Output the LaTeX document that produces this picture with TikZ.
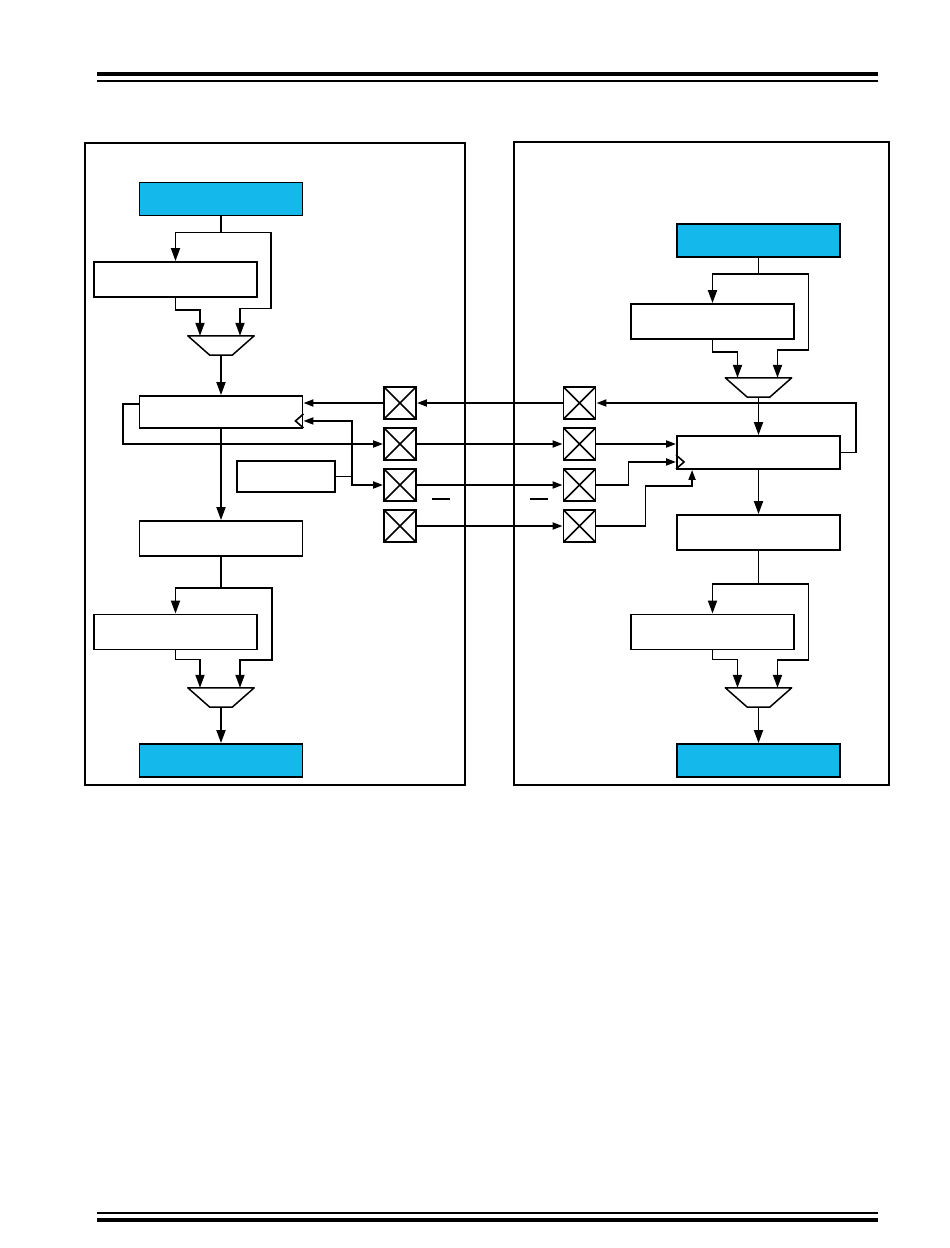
\documentclass[tikz,border=0pt]{standalone}
\usepackage{tikz}
\usetikzlibrary{arrows.meta,calc}

\definecolor{padblue}{RGB}{20,184,234}
\tikzset{
  blk/.style={draw, line width=1.9pt, minimum width=163pt, minimum height=35pt, inner sep=0pt},
  srcblk/.style={blk, fill=padblue, minimum height=33pt},
  regblk/.style={blk, minimum height=32pt},
  xbox/.style={draw, line width=1.9pt, minimum size=32pt, inner sep=0pt,
    path picture={\draw[line width=1.6pt] (path picture bounding box.north west) -- (path picture bounding box.south east)
      (path picture bounding box.south west) -- (path picture bounding box.north east);}},
  muxbox/.style={minimum width=66pt, minimum height=19pt, inner sep=0pt},
  muxline/.style={line width=1.5pt, line join=round},
  arr/.style={line width=1.9pt, -{Triangle[length=13pt,width=9pt]}},
  sarr/.style={line width=1.9pt, -{Triangle[length=10pt,width=7pt]}},
}

\begin{document}
\begin{tikzpicture}[x=1pt,y=-1pt]
    \useasboundingbox (0,0) rectangle (950,1248);

    % draw header and footer rules
    \draw[line width=4pt] (97,74) -- (878,74);
    \draw[line width=2pt] (97,81) -- (878,81);
    \draw[line width=2pt] (97,1213) -- (878,1213);
    \draw[line width=4pt] (97,1220) -- (878,1220);

    % draw frames
    \draw[line width=1.6pt] (85,143) rectangle (465,785);
    \draw[line width=1.6pt] (514,142) rectangle (889,785);

    % left side blocks
    \node[srcblk] (srcL) at (221,199) {};
    \node[blk] (mapL1) at (175.5,279.5) {};
    \node[muxbox] (muxL1) at (221,345.5) {};
    \node[regblk] (regL) at (221,412) {};
    \node[blk, minimum width=98pt, minimum height=31pt] (smallL) at (286,476.5) {};
    \node[blk] (bufL) at (221,538.5) {};
    \node[blk] (mapL2) at (175.5,632) {};
    \node[muxbox] (muxL2) at (221,697.5) {};
    \node[srcblk] (sinkL) at (221,760.5) {};

    % right side blocks
    \node[srcblk] (srcR) at (758.5,240.5) {};
    \node[blk] (mapR1) at (712.5,321.5) {};
    \node[muxbox] (muxR1) at (758.5,387.5) {};
    \node[regblk, minimum height=33pt] (regR) at (758.5,452.5) {};
    \node[blk] (bufR) at (758.5,532.5) {};
    \node[blk] (mapR2) at (712.5,632) {};
    \node[muxbox] (muxR2) at (758.5,697.5) {};
    \node[srcblk] (sinkR) at (758.5,760.5) {};

    % draw pads
    \foreach \i/\y in {1/403,2/444,3/485,4/526} {
        \node[xbox] (xL\i) at (400,\y) {};
        \node[xbox] (xR\i) at (579.5,\y) {};
    }

    % draw muxes
    \foreach \m in {muxL1,muxL2,muxR1,muxR2}
    \draw[muxline] (\m.north west) -- (\m.north east) -- ([xshift=-22pt]\m.south east) -- ([xshift=22pt]\m.south west) -- cycle;

    % clock marks
    \draw[line width=1.6pt] ($(regL.south east)+(0,-15)$) -- ++(-8,7) -- ++(8,7);
    \draw[line width=1.6pt] ($(regR.south west)+(0,-15)$) -- ++(8,7) -- ++(-8,7);

    % left side connections
    \draw[arr] (srcL.south) -- ++(0,16) coordinate (splitL1) -| (mapL1.north);
    \draw[arr] (splitL1) -- ++(50,0) -- ++(0,76) -| ($(muxL1.north)+(19,0)$);
    \draw[arr] (mapL1.south) -- ++(0,12) -| ($(muxL1.north)+(-21,0)$);
    \draw[arr] (muxL1.south) -- (regL.north);
    \draw[sarr] (xL1.west) -- (xL1.west -| regL.east);
    \draw[sarr] (smallL.east) -- ++(16,0) coordinate (clkL) |- ($(regL.south east)+(0,-8)$);
    \draw[sarr] (clkL) |- (xL3.west);
    \draw[sarr] ($(regL.west)+(0,-8)$) -- ++(-16,0) |- (xL2.west);
    \draw[arr] (regL.south) -- (bufL.north);
    \draw[arr] (bufL.south) -- ++(0,31) coordinate (splitL2) -| (mapL2.north);
    \draw[arr] (splitL2) -- ++(51,0) -- ++(0,72) -| ($(muxL2.north)+(19,0)$);
    \draw[arr] (mapL2.south) -- ++(0,9) -| ($(muxL2.north)+(-21,0)$);
    \draw[arr] (muxL2.south) -- (sinkL.north);

    % pad to pad connections
    \draw[sarr] (xR1.west) -- (xL1.east);
    \foreach \i in {2,3,4}
    \draw[sarr] (xL\i.east) -- (xR\i.west);

    % overline marks
    \draw[line width=1.6pt] (432,499) -- (450,499);
    \draw[line width=1.6pt] (530,499) -- (548,499);

    % right side connections
    \draw[arr] (srcR.south) -- ++(0,16) coordinate (splitR1) -| (mapR1.north);
    \draw[arr] (splitR1) -- ++(50,0) -- ++(0,76) -| ($(muxR1.north)+(19,0)$);
    \draw[arr] (mapR1.south) -- ++(0,12) -| ($(muxR1.north)+(-21,0)$);
    \draw[arr] (muxR1.south) -- (regR.north);
    \draw[sarr] (regR.east) -- ++(15,0) |- (xR1.east);
    \draw[sarr] (xR2.east) -- (xR2.east -| regR.west);
    \draw[sarr] (xR3.east) -- ++(32,0) |- ($(regR.south west)+(0,-8)$);
    \draw[sarr] (xR4.east) -- ++(49,0) |- ($(regR.south west)+(16,16)$) -- ($(regR.south west)+(16,0)$);
    \draw[arr] (regR.south) -- (bufR.north);
    \draw[arr] (bufR.south) -- ++(0,33) coordinate (splitR2) -| (mapR2.north);
    \draw[arr] (splitR2) -- ++(50,0) -- ++(0,76) -| ($(muxR2.north)+(19,0)$);
    \draw[arr] (mapR2.south) -- ++(0,9) -| ($(muxR2.north)+(-21,0)$);
    \draw[arr] (muxR2.south) -- (sinkR.north);
\end{tikzpicture}
\end{document}
